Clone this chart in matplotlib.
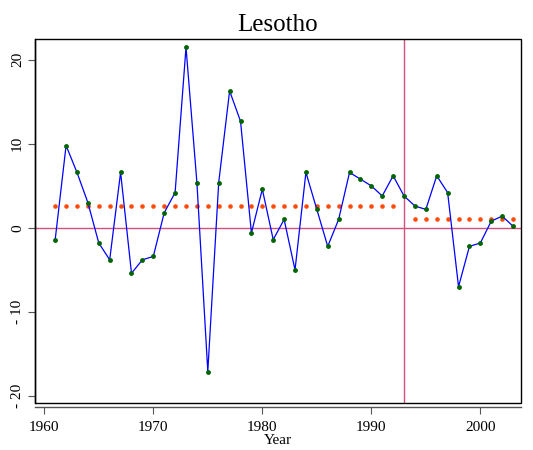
import matplotlib
matplotlib.use("Agg")
import matplotlib.pyplot as plt
from matplotlib.patches import Rectangle

plt.rcParams['font.family'] = ['Liberation Serif', 'DejaVu Serif']
plt.rcParams['axes.unicode_minus'] = False

years = list(range(1961, 2004))
values = [-1.4, 9.8, 6.6, 3.0, -1.8, -3.8, 6.6, -5.4, -3.8, -3.4,
          1.8, 4.2, 21.5, 5.4, -17.1, 5.4, 16.3, 12.7, -0.6, 4.6,
          -1.4, 1.0, -5.0, 6.6, 2.2, -2.2, 1.0, 6.6, 5.8, 5.0,
          3.8, 6.2, 3.8, 2.6, 2.2, 6.2, 4.2, -7.0, -2.2, -1.8,
          0.8, 1.4, 0.2]

mean1_years = list(range(1961, 1993))
mean1_value = 2.6
mean2_years = list(range(1994, 2004))
mean2_value = 1.0
break_year = 1993

xticks = [1960, 1970, 1980, 1990, 2000]
yticks = [-20, -10, 0, 10, 20]
ytick_labels = ['- 20', '- 10', '0', '10', '20']

fig = plt.figure(figsize=(5.33, 4.5), dpi=100)
ax = fig.add_axes([0.0657, 0.1038, 0.9118, 0.8089])

red = '#d4507a'
ax.axhline(0, color=red, lw=1.0, zorder=1)
ax.axvline(break_year, color=red, lw=1.0, zorder=1)

ax.plot(mean1_years, [mean1_value] * len(mean1_years), linestyle='none',
        marker='o', ms=3.3, color='#ff4a0a', mec='none', zorder=2)
ax.plot(mean2_years, [mean2_value] * len(mean2_years), linestyle='none',
        marker='o', ms=3.3, color='#ff4a0a', mec='none', zorder=2)

ax.plot(years, values, color='#0000ff', lw=0.9, zorder=3)
ax.plot(years, values, linestyle='none', marker='o', ms=3.5,
        color='#006400', mec='none', zorder=4)

ax.set_xlim(1959.15, 2003.73)
ax.set_ylim(-20.88, 22.45)

for s in ['top', 'right']:
    ax.spines[s].set_visible(False)
ax.spines['left'].set_linewidth(1.0)
ax.spines['bottom'].set_position(('outward', 3))
ax.spines['bottom'].set_color('#555555')
ax.spines['bottom'].set_linewidth(1.0)

ax.add_patch(Rectangle((0, 0), 1, 1, transform=ax.transAxes, fill=False,
                       edgecolor='black', lw=1.0, clip_on=False, zorder=5))

ax.set_xticks(xticks)
ax.set_yticks(yticks)
ax.set_yticklabels(ytick_labels)
ax.tick_params(axis='both', direction='out', length=5, width=0.8,
               color='#555555', labelsize=11)
ax.tick_params(axis='x', pad=5)
ax.tick_params(axis='y', pad=3)
for lab in ax.get_yticklabels():
    lab.set_rotation(90)
    lab.set_va('center')

ax.set_title('Lesotho', fontsize=18, pad=6)
ax.set_xlabel('Year', fontsize=11, labelpad=0)

fig.savefig('out.png', dpi=100)
